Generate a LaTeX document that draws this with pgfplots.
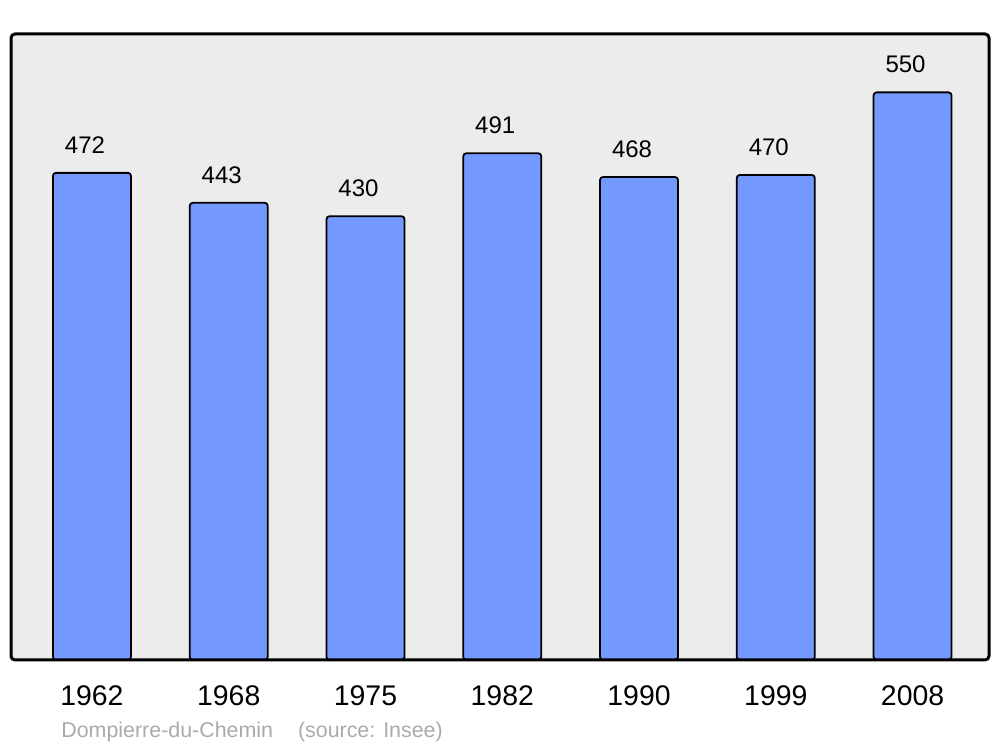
\documentclass[border=0pt]{standalone}
\usepackage{pgfplots}
\pgfplotsset{compat=1.18}
\usepackage{fontspec}
\setmainfont{Liberation Sans}
\definecolor{barblue}{HTML}{7399FF}
\definecolor{panel}{HTML}{ECECEC}
\definecolor{note}{HTML}{AAAAAA}
\begin{document}
\begin{tikzpicture}
\useasboundingbox (-5.5pt,-43.5pt) rectangle (494.5pt,330pt);
\begin{axis}[
  at={(0,0)}, anchor=south west,
  width=489pt, height=313pt, scale only axis,
  xmin=-0.592, xmax=6.559, ymin=0, ymax=606.6,
  xtick={0,...,6},
  xticklabels={1962,1968,1975,1982,1990,1999,2008},
  x tick label style={font=\fontsize{14.2}{16}\selectfont, yshift=-9.5pt},
  ytick=\empty, major tick length=0pt,
  axis background/.style={fill=panel},
  axis line style={line width=1.5pt, rounded corners=2pt},
  axis on top,
  /pgf/number format/assume math mode=true,
  nodes near coords,
  every node near coord/.append style={font=\fontsize{12}{14}\selectfont, anchor=center, yshift=14pt, xshift=-3.5pt},
]
\addplot[ybar, bar width=39pt, fill=barblue, draw=black, line width=0.9pt, rounded corners=1.5pt]
  coordinates {(0,472) (1,443) (2,430) (3,491) (4,468) (5,470) (6,550)};
\end{axis}
\node[anchor=west, text=note, font=\fontsize{10.7}{12}\selectfont, inner sep=0pt] at (25pt,-36pt) {Dompierre-du-Chemin\hspace{12.5pt}(source: Insee)};
\end{tikzpicture}
\end{document}
